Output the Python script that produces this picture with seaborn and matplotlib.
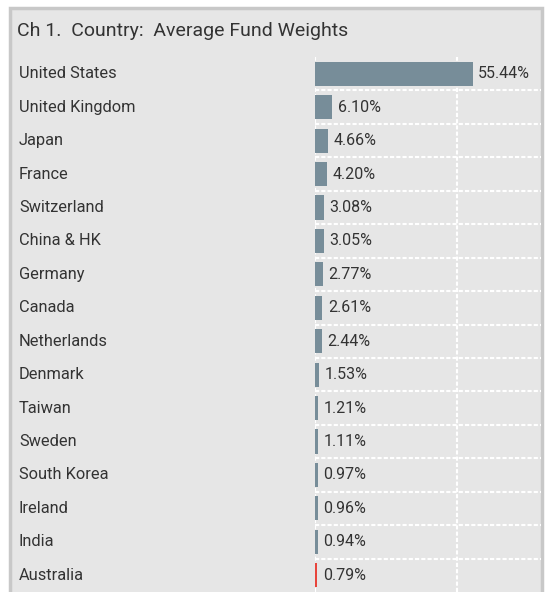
import matplotlib
matplotlib.use('Agg')
import matplotlib.pyplot as plt
import matplotlib.transforms as mtransforms
from matplotlib.patches import Rectangle
import seaborn as sns

# Data
countries = ['United States', 'United Kingdom', 'Japan', 'France', 'Switzerland',
             'China & HK', 'Germany', 'Canada', 'Netherlands', 'Denmark', 'Taiwan',
             'Sweden', 'South Korea', 'Ireland', 'India', 'Australia']
weights = [55.44, 6.10, 4.66, 4.20, 3.08, 3.05, 2.77, 2.61, 2.44, 1.53, 1.21,
           1.11, 0.97, 0.96, 0.94, 0.79]
highlight = 'Australia'

bar_color = '#778d99'
hi_color = '#e8453c'
panel_bg = '#e6e6e6'
text_color = '#333333'

sns.set_style('white')
plt.rcParams['font.family'] = ['Roboto', 'DejaVu Sans']

fig = plt.figure(figsize=(5.45, 5.92), dpi=100)
fig.patch.set_facecolor('white')

# panel with grey border (drawn behind the axes)
fig.patches.append(Rectangle((10 / 545, -0.05), 532 / 545, 1.05 - 8 / 592,
                             transform=fig.transFigure, facecolor=panel_bg,
                             edgecolor='#c8c8c8', linewidth=2.5, zorder=-5))
fig.text(17 / 545, 1 - 31 / 592, 'Ch 1.  Country:  Average Fund Weights',
         fontsize=14, color=text_color, va='center', ha='left')

ax = fig.add_axes([315 / 545, 0, 226 / 545, 1 - 57 / 592])
ax.set_facecolor('none')

palette = {c: (hi_color if c == highlight else bar_color) for c in countries}
sns.barplot(x=weights, y=countries, hue=countries, palette=palette, orient='h',
            width=0.72, legend=False, saturation=1, linewidth=0, ax=ax)

ax.set_xlim(0, 79.5)
ax.set_ylim(len(countries) - 0.5, -0.5)

# dashed white grid
for xv in [0, 50]:
    ax.axvline(xv, color='white', ls=(0, (2, 1)), lw=1.5, zorder=0)
for i in range(len(countries) - 1):
    ax.axhline(i + 0.5, color='white', ls=(0, (2, 1)), lw=1.5, zorder=0)

for s in ax.spines.values():
    s.set_visible(False)
ax.set_xticks([])
ax.set_yticks([])
ax.set_xlabel('')
ax.set_ylabel('')

# country labels on the left, value labels after the bars
trans = mtransforms.blended_transform_factory(fig.transFigure, ax.transData)
for i, (c, w) in enumerate(zip(countries, weights)):
    ax.text(19 / 545, i, c, transform=trans, fontsize=11.8, color=text_color,
            va='center', ha='left')
    ax.annotate(f'{w:.2f}%', (w, i), xytext=(4, 0), textcoords='offset points',
                fontsize=11.5, color=text_color, va='center', ha='left')

fig.savefig('out.png', dpi=100)
